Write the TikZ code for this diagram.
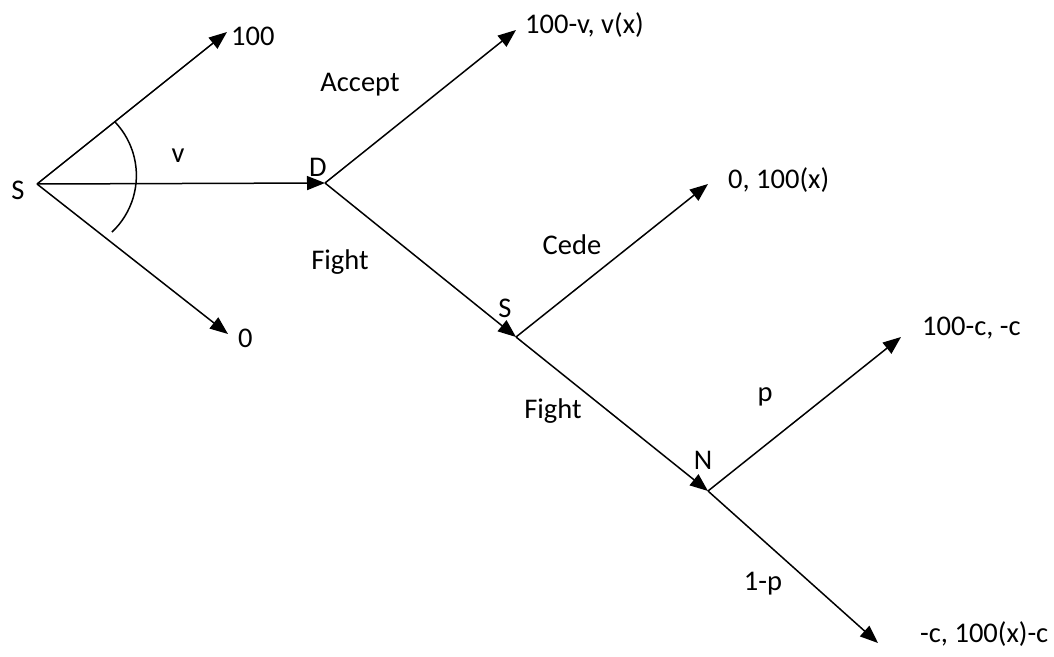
\documentclass[tikz,border=0pt]{standalone}
\usepackage{fontspec}
\setmainfont{Carlito}
\usetikzlibrary{arrows.meta}
\begin{document}
\begin{tikzpicture}[x=1pt,y=1pt,
  branch/.style={line width=1.5pt, -{Triangle[length=18pt,width=14pt]}},
  lbl/.style={anchor=base, inner sep=0pt, font=\fontsize{28.5}{34}\selectfont},
  pay/.style={anchor=base west, inner sep=0pt, font=\fontsize{28.5}{34}\selectfont}]
\useasboundingbox (0,0) rectangle (1054,-656);
% tree points
\coordinate (s0) at (37,-184);
\coordinate (d) at (325,-183);
\coordinate (s1) at (516,-337);
\coordinate (n) at (708,-491);
\coordinate (e100) at (227,-32);
\coordinate (e0) at (228,-334);
\coordinate (ea) at (516,-30);
\coordinate (ec) at (708,-184);
\coordinate (ep) at (901,-337);
\coordinate (eq) at (878,-643);
% branches
\draw[branch] (s0) -- (e100);
\draw[branch] (s0) -- (e0);
\draw[branch] (s0) -- (d);
\draw[branch] (d) -- (ea);
\draw[branch] (d) -- (s1);
\draw[branch] (s1) -- (ec);
\draw[branch] (s1) -- (n);
\draw[branch] (n) -- (ep);
\draw[branch] (n) -- (eq);
% angle arc
\draw[line width=1.5pt] ([shift={(43.5:77.7)}]58.7,-175.5) arc[start angle=43.5, end angle=-46.7, radius=77.7pt];
% player labels
\node[lbl] (ls0) at (18,-199) {S};
\node[lbl] (ld) at (318,-176) {D};
\node[lbl] (ls1) at (505,-317) {S};
\node[lbl] (ln) at (703,-469) {N};
% action labels
\node[lbl] (lv) at (178,-162) {v};
\node[lbl] (lacc) at (360,-91) {Accept};
\node[lbl] (lf1) at (340,-269) {Fight};
\node[lbl] (lcede) at (572,-254) {Cede};
\node[lbl] (lf2) at (553,-418) {Fight};
\node[lbl] (lp) at (765,-401) {p};
\node[lbl] (lq) at (763,-590) {1-p};
% payoffs
\node[pay] (p100) at (231,-45) {100};
\node[pay] (p0) at (238,-347) {0};
\node[pay] (pa) at (525,-33) {100-v, v(x)};
\node[pay] (pc) at (728,-188) {0, 100(x)};
\node[pay] (pp) at (922,-335) {100-c, -c};
\node[pay] (pq) at (920,-642) {-c, 100(x)-c};
\end{tikzpicture}
\end{document}
